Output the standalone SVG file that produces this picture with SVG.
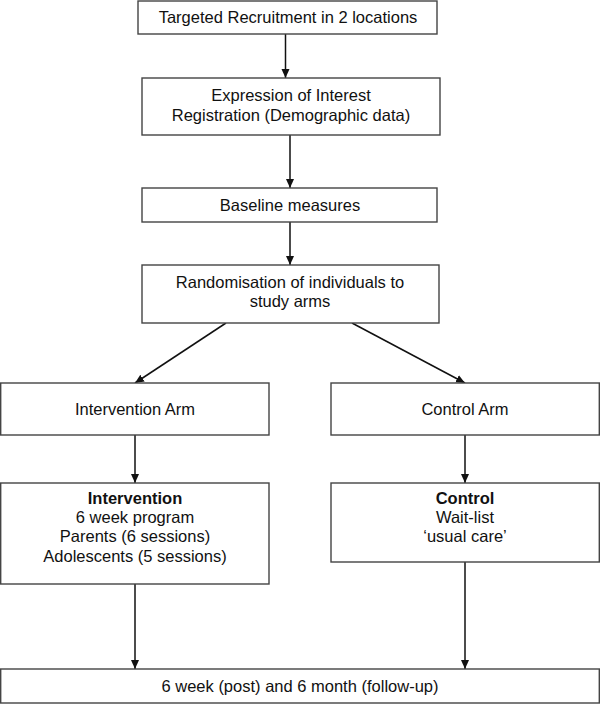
<svg xmlns="http://www.w3.org/2000/svg" width="600" height="704" viewBox="0 0 600 704">
<defs>
<style>
.box{fill:#fff;stroke:#444;stroke-width:1.4}
.t{font-family:"Liberation Sans",Arial,sans-serif;font-size:16.5px;fill:#111;text-anchor:middle}
.b{font-weight:bold}
.c{stroke:#111;stroke-width:1.5;fill:none;marker-end:url(#ah)}
</style>
<marker id="ah" markerWidth="10" markerHeight="10" refX="9" refY="5" orient="auto" markerUnits="userSpaceOnUse">
<path d="M0,1 L9,5 L0,9 Z" fill="#111"/>
</marker>
</defs>
<rect width="600" height="704" fill="#fff"/>
<g id="connectors">
<line class="c" x1="285.5" y1="34" x2="285.5" y2="78"/>
<line class="c" x1="290" y1="135" x2="290" y2="188"/>
<line class="c" x1="290" y1="222" x2="290" y2="265"/>
<line class="c" x1="226" y1="323" x2="135" y2="383"/>
<line class="c" x1="352" y1="323" x2="465" y2="383"/>
<line class="c" x1="135" y1="435" x2="135" y2="483"/>
<line class="c" x1="465" y1="435" x2="465" y2="483"/>
<line class="c" x1="135" y1="584" x2="135" y2="669"/>
<line class="c" x1="465" y1="562" x2="465" y2="669"/>
</g>
<g id="recruit">
<rect class="box" x="138" y="1" width="299" height="33"/>
<text class="t" x="288" y="23">Targeted Recruitment in 2 locations</text>
</g>
<g id="interest">
<rect class="box" x="142" y="78" width="298" height="57"/>
<text class="t" x="291" y="101">Expression of Interest</text>
<text class="t" x="291" y="121">Registration (Demographic data)</text>
</g>
<g id="baseline">
<rect class="box" x="142" y="188" width="295" height="34"/>
<text class="t" x="290" y="211">Baseline measures</text>
</g>
<g id="random">
<rect class="box" x="142" y="265" width="297" height="58"/>
<text class="t" x="290" y="288">Randomisation of individuals to</text>
<text class="t" x="290" y="307">study arms</text>
</g>
<g id="intarm">
<rect class="box" x="0.7" y="383" width="268.3" height="52"/>
<text class="t" x="135" y="415">Intervention Arm</text>
</g>
<g id="ctlarm">
<rect class="box" x="331" y="383" width="268.3" height="52"/>
<text class="t" x="465" y="415">Control Arm</text>
</g>
<g id="intervention">
<rect class="box" x="0.7" y="483" width="268.3" height="101"/>
<text class="t b" x="135" y="504">Intervention</text>
<text class="t" x="135" y="523">6 week program</text>
<text class="t" x="135" y="542">Parents (6 sessions)</text>
<text class="t" x="135" y="562">Adolescents (5 sessions)</text>
</g>
<g id="control">
<rect class="box" x="331" y="483" width="268.3" height="79"/>
<text class="t b" x="465" y="504">Control</text>
<text class="t" x="465" y="523">Wait-list</text>
<text class="t" x="465" y="542">‘usual care’</text>
</g>
<g id="followup">
<rect class="box" x="0.7" y="669" width="598.6" height="34"/>
<text class="t" x="300" y="692">6 week (post) and 6 month (follow-up)</text>
</g>
</svg>
